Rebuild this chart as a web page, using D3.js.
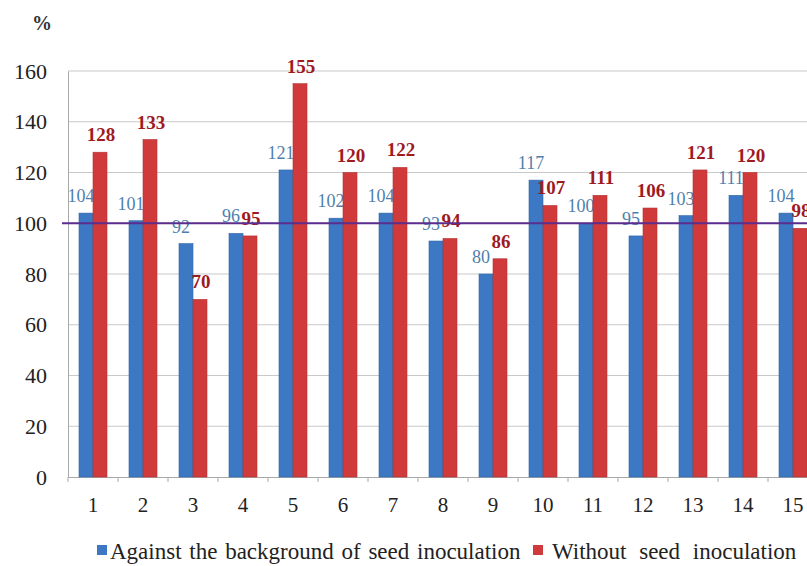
<!DOCTYPE html>
<html>
<head>
<meta charset="utf-8">
<script src="https://cdn.jsdelivr.net/npm/d3@7"></script>
<style>
  body { margin: 0; background: #fff; }
  svg text { font-family: "Liberation Serif", "Times New Roman", Times, "DejaVu Serif", serif !important; }
</style>
</head>
<body>
<div id="chart"></div>
<script>
const categories = ["1","2","3","4","5","6","7","8","9","10","11","12","13","14","15"];
const seriesNames = ["Against the background of seed inoculation", "Without seed inoculation"];
const withInoculation = [104, 101, 92, 96, 121, 102, 104, 93, 80, 117, 100, 95, 103, 111, 104];
const withoutInoculation = [128, 133, 70, 95, 155, 120, 122, 94, 86, 107, 111, 106, 121, 120, 98];
const yTicks = [0, 20, 40, 60, 80, 100, 120, 140, 160];
const referenceLevel = 100;

const width = 807, height = 566;
const colors = ["#3c78c3", "#d03a3b"];
const labelColors = ["#4f7fae", "#9e1a1f"];

const svg = d3.select("#chart").append("svg")
    .attr("width", width)
    .attr("height", height);

const x = d3.scaleBand()
    .domain(categories)
    .range([68, 818])
    .padding(0);

const xs = d3.scaleBand()
    .domain([0, 1])
    .range([0, x.bandwidth()])
    .paddingInner(0)
    .paddingOuter(0.786);

const y = d3.scaleLinear()
    .domain([0, 160])
    .range([477, 71]);

// gridlines
svg.append("g")
    .selectAll("line")
    .data(yTicks.filter(d => d > 0))
    .enter().append("line")
    .attr("x1", 68).attr("x2", width)
    .attr("y1", d => y(d)).attr("y2", d => y(d))
    .attr("stroke", "#c9c9c9")
    .attr("stroke-width", 1);

// y axis
const yAxis = svg.append("g")
    .attr("transform", "translate(68,0)")
    .call(d3.axisLeft(y).tickValues(yTicks).tickSize(0).tickPadding(21));
yAxis.select(".domain").attr("stroke", "#a8a8a8");
yAxis.selectAll("text")
    .attr("font-size", 22)
    .attr("fill", "#222");

// x axis
const xAxis = svg.append("g")
    .attr("transform", `translate(0,${y(0)})`)
    .call(d3.axisBottom(x).tickSize(0).tickPadding(20));
xAxis.select(".domain").attr("stroke", "#a8a8a8");
xAxis.selectAll("text")
    .attr("font-size", 21)
    .attr("fill", "#222");
xAxis.selectAll(".sep")
    .data(categories)
    .enter().append("line")
    .attr("class", "sep")
    .attr("x1", d => x(d)).attr("x2", d => x(d))
    .attr("y1", 0).attr("y2", 5)
    .attr("stroke", "#a8a8a8");

const data = [withInoculation, withoutInoculation];

function drawBars(s) {
    svg.append("g")
        .selectAll("rect")
        .data(data[s])
        .enter().append("rect")
        .attr("x", (d, i) => x(categories[i]) + xs(s))
        .attr("y", d => y(d))
        .attr("width", xs.bandwidth())
        .attr("height", d => y(0) - y(d))
        .attr("fill", colors[s])
        .attr("stroke", d3.color(colors[s]).darker(0.4))
        .attr("stroke-width", 0.6);
}

function drawLabels(s) {
    svg.append("g")
        .selectAll("text")
        .data(data[s])
        .enter().append("text")
        .attr("x", (d, i) => x(categories[i]) + xs(s) + xs.bandwidth() / 2 + (s === 0 ? -5 : 1))
        .attr("y", d => y(d) - 11)
        .attr("text-anchor", "middle")
        .attr("font-size", s === 0 ? 18 : 19)
        .attr("font-weight", s === 0 ? "normal" : "bold")
        .attr("fill", labelColors[s])
        .text(d => d);
}

// blue labels sit under the red bars, as in the original
drawBars(0);
drawLabels(0);
drawBars(1);
drawLabels(1);

// 100% reference line
svg.append("line")
    .attr("x1", 62).attr("x2", width)
    .attr("y1", y(referenceLevel)).attr("y2", y(referenceLevel))
    .attr("stroke", "#5b2d8e")
    .attr("stroke-width", 2.2);

// unit label
svg.append("text")
    .attr("x", 42).attr("y", 30)
    .attr("text-anchor", "middle")
    .attr("font-size", 20)
    .attr("font-weight", "bold")
    .attr("fill", "#333")
    .text("%");

// legend
const legend = svg.append("g");
const legendPos = [{ sq: 97, tx: 110, ws: 2 }, { sq: 533, tx: 552, ws: 7 }];
seriesNames.forEach((name, i) => {
    legend.append("rect")
        .attr("x", legendPos[i].sq).attr("y", 545)
        .attr("width", 10).attr("height", 10)
        .attr("fill", colors[i]);
    legend.append("text")
        .attr("x", legendPos[i].tx).attr("y", 559)
        .attr("font-size", 23)
        .attr("word-spacing", legendPos[i].ws)
        .attr("fill", "#222")
        .text(name);
});
</script>
</body>
</html>
